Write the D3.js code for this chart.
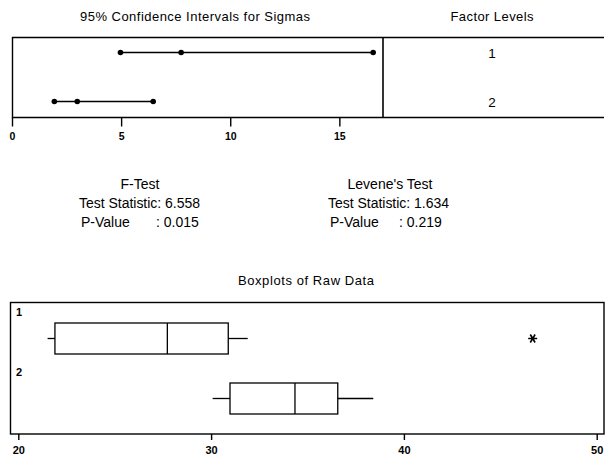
<!DOCTYPE html>
<html>
<head>
<meta charset="utf-8">
<script src="https://cdn.jsdelivr.net/npm/d3@7"></script>
<style>
  body { margin: 0; background: #fff; }
  svg { display: block; font-family: Arial, "Liberation Sans", sans-serif; }
</style>
</head>
<body>
<svg id="chart" width="605" height="459"></svg>
<script>
// ---- data ----
const levels = ["1", "2"];
const ciLower = [4.97, 1.94];
const ciSigma = [7.75, 2.99];
const ciUpper = [16.55, 6.47];
const ciTicks = [0, 5, 10, 15];

const fTest = ["F-Test", "Test Statistic: 6.558", "P-Value", ": 0.015"];
const levene = ["Levene's Test", "Test Statistic: 1.634", "P-Value", ": 0.219"];

const whiskLow = [21.52, 30.08];
const q1 = [21.9, 30.98];
const median = [27.73, 34.35];
const q3 = [30.89, 36.57];
const whiskHigh = [31.9, 38.41];
const outliers = [[46.68], []];
const boxTicks = [20, 30, 40, 50];

const svg = d3.select("#chart");

// ---------- top panel: confidence intervals ----------
const x1 = d3.scaleLinear().domain([0, 17]).range([12, 383]);
const y1 = d3.scalePoint().domain(levels).range([52.5, 101.5]);

const ciPanel = svg.append("g");
ciPanel.append("text").attr("x", 195).attr("y", 21).attr("text-anchor", "middle")
  .attr("font-size", 13).attr("textLength", 230).text("95% Confidence Intervals for Sigmas");
ciPanel.append("text").attr("x", 492).attr("y", 21).attr("text-anchor", "middle")
  .attr("font-size", 13).attr("textLength", 83).text("Factor Levels");

ciPanel.append("path")
  .attr("d", "M604,37.5H12.5V117.5H604")
  .attr("fill", "none").attr("stroke", "#000").attr("stroke-width", 1.4);
ciPanel.append("line").attr("x1", 383).attr("x2", 383).attr("y1", 37.5).attr("y2", 117.5)
  .attr("stroke", "#000").attr("stroke-width", 1.6);

const ciAxis = ciPanel.append("g").attr("transform", "translate(0,117.5)")
  .call(d3.axisBottom(x1).tickValues(ciTicks).tickSize(9).tickPadding(6).tickFormat(d3.format("d")));
ciAxis.select(".domain").remove();
ciAxis.selectAll("line").attr("stroke-width", 1.4);
ciAxis.selectAll("text").attr("font-size", 10.5).attr("font-weight", "bold")
  .attr("font-family", "Arial, 'Liberation Sans', sans-serif").attr("fill", "#000");

levels.forEach((lv, i) => {
  const y = y1(lv);
  ciPanel.append("line").attr("x1", x1(ciLower[i])).attr("x2", x1(ciUpper[i]))
    .attr("y1", y).attr("y2", y).attr("stroke", "#000").attr("stroke-width", 1.4);
  [ciLower[i], ciSigma[i], ciUpper[i]].forEach(v => {
    ciPanel.append("circle").attr("cx", x1(v)).attr("cy", y).attr("r", 2.8).attr("fill", "#000");
  });
  ciPanel.append("text").attr("x", 492).attr("y", y + 5).attr("text-anchor", "middle")
    .attr("font-size", 13.5).text(lv);
});

// ---------- middle: test results ----------
function testBlock(lines, cx, left, valX) {
  const g = svg.append("g").attr("font-size", 14);
  g.append("text").attr("x", cx).attr("y", 189).attr("text-anchor", "middle").text(lines[0]);
  g.append("text").attr("x", left).attr("y", 208).attr("textLength", 121).text(lines[1]);
  g.append("text").attr("x", left + 2).attr("y", 227).text(lines[2]);
  g.append("text").attr("x", valX).attr("y", 227).text(lines[3]);
}
testBlock(fTest, 140, 79, 156);
testBlock(levene, 390, 328, 399);

// ---------- bottom panel: boxplots ----------
const x2 = d3.scaleLinear().domain([20, 50]).range([18.3, 596.7]);
const y2 = d3.scalePoint().domain(levels).range([338.5, 398.5]);
const boxH = 31;

const boxPanel = svg.append("g");
boxPanel.append("text").attr("x", 306).attr("y", 285).attr("text-anchor", "middle")
  .attr("font-size", 13).attr("textLength", 136).text("Boxplots of Raw Data");
boxPanel.append("rect").attr("x", 10.5).attr("y", 302.5).attr("width", 593.5).attr("height", 131.5)
  .attr("fill", "none").attr("stroke", "#000").attr("stroke-width", 1.4);

const boxAxis = boxPanel.append("g").attr("transform", "translate(0,434)")
  .call(d3.axisBottom(x2).tickValues(boxTicks).tickSize(6).tickPadding(6).tickFormat(d3.format("d")));
boxAxis.select(".domain").remove();
boxAxis.selectAll("line").attr("stroke-width", 1.4);
boxAxis.selectAll("text").attr("font-size", 11).attr("font-weight", "bold")
  .attr("font-family", "Arial, 'Liberation Sans', sans-serif").attr("fill", "#000");

// six-armed star used for outliers
const starPath = "M-4.5,0H4.5M-2.4,-4L2.4,4M-2.4,4L2.4,-4";

levels.forEach((lv, i) => {
  const y = y2(lv);
  const g = boxPanel.append("g").attr("stroke", "#000").attr("stroke-width", 1.3).attr("fill", "none");
  g.append("line").attr("x1", x2(whiskLow[i])).attr("x2", x2(q1[i])).attr("y1", y).attr("y2", y);
  g.append("line").attr("x1", x2(q3[i])).attr("x2", x2(whiskHigh[i])).attr("y1", y).attr("y2", y);
  g.append("rect").attr("x", x2(q1[i])).attr("y", y - boxH / 2)
    .attr("width", x2(q3[i]) - x2(q1[i])).attr("height", boxH);
  g.append("line").attr("x1", x2(median[i])).attr("x2", x2(median[i]))
    .attr("y1", y - boxH / 2).attr("y2", y + boxH / 2);
  outliers[i].forEach(v => {
    boxPanel.append("path").attr("d", starPath)
      .attr("transform", `translate(${x2(v)},${y})`)
      .attr("stroke", "#000").attr("stroke-width", 1.6).attr("fill", "none");
  });
  boxPanel.append("text").attr("x", 16).attr("y", y - 23).attr("font-size", 11)
    .attr("font-weight", "bold").text(lv);
});
</script>
</body>
</html>
